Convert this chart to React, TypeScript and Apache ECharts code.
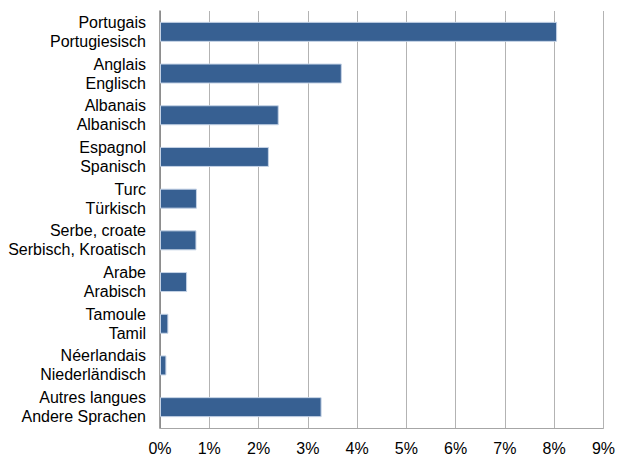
import React, { useEffect, useRef } from "react";
import * as echarts from "echarts";

const categories = [
  "Portugais\nPortugiesisch",
  "Anglais\nEnglisch",
  "Albanais\nAlbanisch",
  "Espagnol\nSpanisch",
  "Turc\nTürkisch",
  "Serbe, croate\nSerbisch, Kroatisch",
  "Arabe\nArabisch",
  "Tamoule\nTamil",
  "Néerlandais\nNiederländisch",
  "Autres langues\nAndere Sprachen",
];
const values = [8.06, 3.69, 2.41, 2.21, 0.75, 0.74, 0.55, 0.17, 0.13, 3.28];

export default function App() {
  const ref = useRef<HTMLDivElement>(null);
  useEffect(() => {
    const chart = echarts.init(ref.current!, null, { renderer: "svg" });
    chart.setOption({
      animation: false,
      grid: { left: 160, right: 12, top: 11, bottom: 26, containLabel: false },
      xAxis: {
        type: "value",
        min: 0,
        max: 9,
        interval: 1,
        axisLine: { show: true, lineStyle: { color: "#a6a6a6", width: 1 } },
        axisTick: { show: false },
        splitLine: { show: true, lineStyle: { color: "#b3b3b3", width: 1 } },
        axisLabel: {
          formatter: (v: number) => v + "%",
          color: "#000",
          fontFamily: "Liberation Sans, Arial, sans-serif",
          fontSize: 16,
          margin: 12,
        },
      },
      yAxis: {
        type: "category",
        inverse: true,
        data: categories,
        axisLine: { show: true, lineStyle: { color: "#808080", width: 1.5 } },
        axisTick: { show: false },
        axisLabel: {
          color: "#000",
          fontFamily: "Liberation Sans, Arial, sans-serif",
          fontSize: 16,
          lineHeight: 19,
          align: "right",
          margin: 14,
        },
      },
      series: [
        {
          type: "bar",
          data: values,
          barWidth: 20,
          itemStyle: { color: "#376092", borderColor: "#c5d3e6", borderWidth: 1 },
        },
      ],
    });
    return () => chart.dispose();
  }, []);
  return <div ref={ref} style={{ width: 618, height: 456, position: "absolute", left: 0, top: 0 }} />;
}
